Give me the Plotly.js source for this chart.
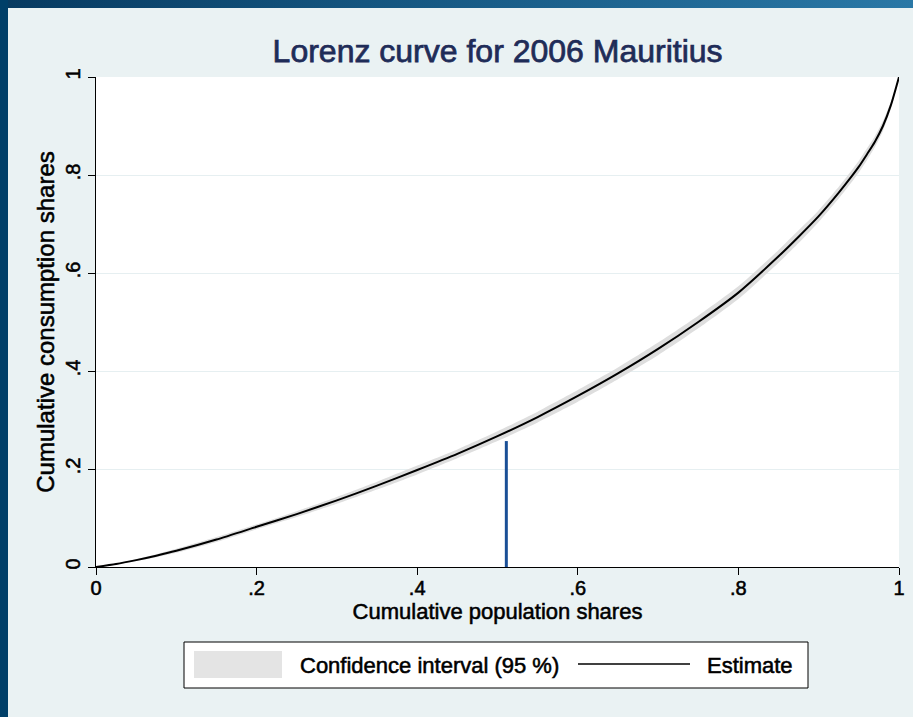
<!DOCTYPE html>
<html>
<head>
<meta charset="utf-8">
<script src="https://cdn.plot.ly/plotly-3.0.1.min.js"></script>
<style>
  html, body { margin: 0; padding: 0; background: #eaf2f3; }
  #wrap { position: relative; width: 913px; height: 717px; }
  #chart { position: absolute; left: 0; top: 0; width: 913px; height: 717px; }
  #bandTop { position: absolute; left: 0; top: 0; width: 913px; height: 8px;
    background: linear-gradient(to right, #073a60 0%, #14557f 40%, #2a78a6 100%); z-index: 5; }
  #bandLeft { position: absolute; left: 0; top: 0; width: 8px; height: 717px;
    background: #003f68; z-index: 6; }
  #chart text { stroke: #000000; stroke-width: 0.55px; }
  #chart .gtitle { stroke: #1f2c58; stroke-width: 0.75px; }
</style>
</head>
<body>
<div id="wrap">
  <div id="chart"></div>
  <div id="bandTop"></div>
  <div id="bandLeft"></div>
</div>
<script>
// Population shares (x)
const popShares = [0, 0.025, 0.05, 0.075, 0.1, 0.15, 0.2, 0.25, 0.3, 0.35, 0.4, 0.45, 0.5, 0.55, 0.6, 0.65, 0.7, 0.75, 0.8, 0.85, 0.875, 0.9, 0.925, 0.94, 0.95, 0.96, 0.97, 0.98, 0.99, 1.0];
// Estimated cumulative consumption shares
const estimate = [0, 0.006, 0.014, 0.023, 0.033, 0.056, 0.082, 0.108, 0.136, 0.166, 0.198, 0.231, 0.267, 0.306, 0.349, 0.395, 0.445, 0.500, 0.560, 0.634, 0.674, 0.716, 0.764, 0.795, 0.817, 0.842, 0.868, 0.900, 0.943, 1.0];
// 95% confidence bounds
const ciLower = [0, 0.005, 0.012, 0.020, 0.029, 0.051, 0.077, 0.102, 0.129, 0.158, 0.189, 0.222, 0.257, 0.295, 0.337, 0.383, 0.432, 0.487, 0.547, 0.621, 0.661, 0.704, 0.752, 0.783, 0.805, 0.830, 0.857, 0.890, 0.936, 1.0];
const ciUpper = [0, 0.007, 0.016, 0.026, 0.037, 0.061, 0.087, 0.114, 0.143, 0.174, 0.207, 0.240, 0.277, 0.317, 0.361, 0.407, 0.458, 0.513, 0.573, 0.647, 0.687, 0.728, 0.776, 0.807, 0.829, 0.854, 0.879, 0.910, 0.950, 1.0];
// Vertical marker line
const markerX = [0.511, 0.511];
const markerY = [0, 0.257];
// Tick values and labels
const xTickVals = [0, 0.2, 0.4, 0.6, 0.8, 1];
const xTickText = ["0", ".2", ".4", ".6", ".8", "1"];
const yTickVals = [0, 0.2, 0.4, 0.6, 0.8, 1];
const yTickText = ["0", ".2", ".4", ".6", ".8", "1"];
const legendLabels = ["Confidence interval (95 %)", "Estimate"];

const FONT = "Liberation Sans, Arial, Helvetica, sans-serif";
const BAND = "#dedede";

const traces = [
  { x: popShares, y: ciLower, mode: "lines", line: { width: 0, color: BAND, shape: "spline", smoothing: 0.6 }, hoverinfo: "skip", showlegend: false },
  { x: popShares, y: ciUpper, mode: "lines", fill: "tonexty", fillcolor: BAND, line: { width: 0, color: BAND, shape: "spline", smoothing: 0.6 }, name: legendLabels[0], showlegend: false },
  { x: popShares, y: estimate, mode: "lines", line: { width: 2, color: "#000000", shape: "spline", smoothing: 0.6 }, name: legendLabels[1], showlegend: false },
  { x: markerX, y: markerY, mode: "lines", line: { width: 3, color: "#1a4f96" }, showlegend: false }
];

const layout = {
  width: 913, height: 717,
  paper_bgcolor: "#eaf2f3",
  plot_bgcolor: "#ffffff",
  margin: { l: 96, r: 14, t: 77, b: 150, pad: 0 },
  font: { family: FONT, color: "#000000" },
  title: { text: "Lorenz curve for 2006 Mauritius", font: { family: FONT, size: 32, color: "#1f2c58" },
           x: 0.545, xanchor: "center", xref: "container", y: 1 - 51/717, yanchor: "middle", yref: "container" },
  xaxis: {
    range: [0, 1], tickvals: xTickVals, ticktext: xTickText,
    showgrid: false, zeroline: false, showline: true, linecolor: "#000000", linewidth: 1,
    ticks: "outside", ticklen: 7, tickcolor: "#000000", tickwidth: 1, ticklabelstandoff: -4,
    tickfont: { size: 20, family: FONT, color: "#000000" },
    title: { text: "Cumulative population shares", font: { size: 22, family: FONT, color: "#000000" }, standoff: 2 }
  },
  yaxis: {
    range: [0, 1], tickvals: yTickVals, ticktext: yTickText, tickangle: -90,
    showgrid: true, gridcolor: "#e6eff1", gridwidth: 1, zeroline: false,
    showline: true, linecolor: "#000000", linewidth: 1,
    ticks: "outside", ticklen: 7, tickcolor: "#000000", tickwidth: 1,
    tickfont: { size: 20, family: FONT, color: "#000000" },
    title: { text: "Cumulative consumption shares", font: { size: 24, family: FONT, color: "#000000" }, standoff: 0 }
  },
  shapes: [
    { type: "rect", xref: "paper", yref: "paper", x0: (184-96)/803, x1: (808-96)/803, y0: (567-688)/490, y1: (567-642)/490,
      line: { color: "#000000", width: 1 }, fillcolor: "#ffffff" },
    { type: "rect", xref: "paper", yref: "paper", x0: (194-96)/803, x1: (282-96)/803, y0: (567-678)/490, y1: (567-651)/490,
      line: { width: 0 }, fillcolor: "#e4e4e4" },
    { type: "line", xref: "paper", yref: "paper", x0: (578-96)/803, x1: (690-96)/803, y0: (567-664)/490, y1: (567-664)/490,
      line: { color: "#000000", width: 1.5 } }
  ],
  annotations: [
    { xref: "paper", yref: "paper", x: (298-96)/803, y: (567-665)/490, xanchor: "left", yanchor: "middle", showarrow: false,
      text: legendLabels[0], font: { size: 22, family: FONT, color: "#000000" } },
    { xref: "paper", yref: "paper", x: (705-96)/803, y: (567-665)/490, xanchor: "left", yanchor: "middle", showarrow: false,
      text: legendLabels[1], font: { size: 22, family: FONT, color: "#000000" } }
  ],
  showlegend: false
};

Plotly.newPlot("chart", traces, layout, { displayModeBar: false, staticPlot: true });
</script>
</body>
</html>
